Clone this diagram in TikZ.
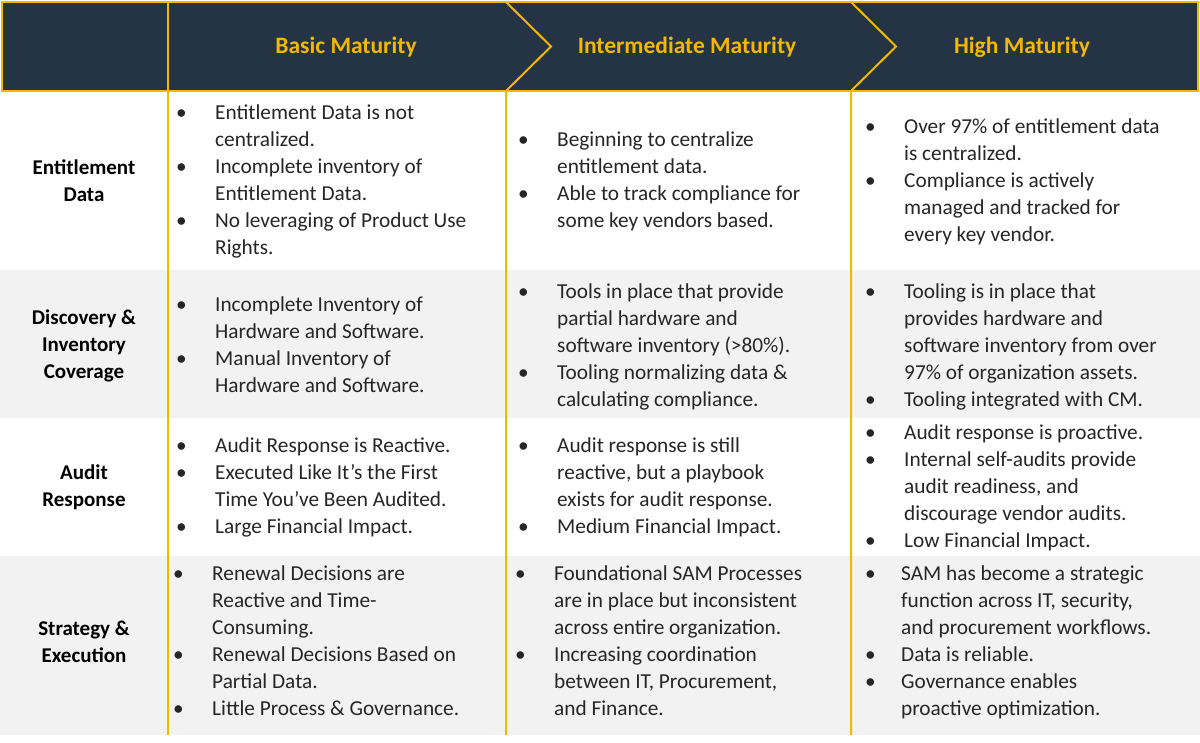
\documentclass[tikz,border=0pt]{standalone}
\usepackage{fontspec}
\setmainfont{Carlito}
\usepackage{array}
\definecolor{hdr}{HTML}{243444}
\definecolor{gold}{HTML}{F5B800}
\definecolor{rowg}{HTML}{F2F2F2}
\tikzset{
  cell/.style={anchor=west,inner sep=0pt,font=\fontsize{21.3}{27}\selectfont,text=black!85},
  rowlab/.style={align=center,inner sep=0pt,font=\fontsize{21}{27}\selectfont\bfseries},
  head/.style={inner sep=0pt,font=\fontsize{23.5}{26}\selectfont\bfseries,text=gold},
  gline/.style={draw=gold,line width=2pt}
}
\newcommand{\bcell}[2]{\begin{tabular}{@{}p{#1}@{}l@{}}#2\end{tabular}}
\begin{document}
\begin{tikzpicture}[x=1pt,y=-1pt]
\useasboundingbox (0,0) rectangle (1200,742);
\fill[white] (0,0) rectangle (1200,742);
% rows
\fill[rowg] (0,270) rectangle (1200,418);
\fill[rowg] (0,556) rectangle (1200,735);
% header
\fill[hdr] (2,2) rectangle (1198,91);
\draw[gline] (2,2) rectangle (1198,91);
\draw[gline] (168,2) -- (168,735);
\draw[gline] (506,2) -- (551,46.5) -- (506,91) -- (506,735);
\draw[gline] (851,2) -- (896,46.5) -- (851,91) -- (851,735);
\node[head] (h1) at (346,47) {Basic Maturity};
\node[head] (h2) at (687,47) {Intermediate Maturity};
\node[head] (h3) at (1022,47) {High Maturity};
% row labels
\node[rowlab] (r1) at (84,181) {Entitlement\\Data};
\node[rowlab] (r2) at (84,346) {Discovery \&\\Inventory\\Coverage};
\node[rowlab] (r3) at (84,487) {Audit\\Response};
\node[rowlab] (r4) at (84,642) {Strategy \&\\Execution};
% row 1
\node[cell] (c11) at (176,182) {\bcell{39pt}{•&Entitlement Data is not\\&centralized.\\•&Incomplete inventory of\\&Entitlement Data.\\•&No leveraging of Product Use\\&Rights.}};
\node[cell] (c12) at (518,182) {\bcell{39pt}{•&Beginning to centralize\\&entitlement data.\\•&Able to track compliance for\\&some key vendors based.}};
\node[cell] (c13) at (865,182) {\bcell{39pt}{•&Over 97\% of entitlement data\\&is centralized.\\•&Compliance is actively\\&managed and tracked for\\&every key vendor.}};
% row 2
\node[cell] (c21) at (176,347) {\bcell{39pt}{•&Incomplete Inventory of\\&Hardware and Software.\\•&Manual Inventory of\\&Hardware and Software.}};
\node[cell] (c22) at (518,347) {\bcell{39pt}{•&Tools in place that provide\\&partial hardware and\\&software inventory (>80\%).\\•&Tooling normalizing data \&\\&calculating compliance.}};
\node[cell] (c23) at (865,347) {\bcell{39pt}{•&Tooling is in place that\\&provides hardware and\\&software inventory from over\\&97\% of organization assets.\\•&Tooling integrated with CM.}};
% row 3
\node[cell] (c31) at (176,488) {\bcell{39pt}{•&Audit Response is Reactive.\\•&Executed Like It’s the First\\&Time You’ve Been Audited.\\•&Large Financial Impact.}};
\node[cell] (c32) at (518,488) {\bcell{39pt}{•&Audit response is still\\&reactive, but a playbook\\&exists for audit response.\\•&Medium Financial Impact.}};
\node[cell] (c33) at (865,488) {\bcell{39pt}{•&Audit response is proactive.\\•&Internal self-audits provide\\&audit readiness, and\\&discourage vendor audits.\\•&Low Financial Impact.}};
% row 4
\node[cell] (c41) at (173,643) {\bcell{39pt}{•&Renewal Decisions are\\&Reactive and Time-\\&Consuming.\\•&Renewal Decisions Based on\\&Partial Data.\\•&Little Process \& Governance.}};
\node[cell] (c42) at (515,643) {\bcell{39pt}{•&Foundational SAM Processes\\&are in place but inconsistent\\&across entire organization.\\•&Increasing coordination\\&between IT, Procurement,\\&and Finance.}};
\node[cell] (c43) at (865,643) {\bcell{36pt}{•&SAM has become a strategic\\&function across IT, security,\\&and procurement workflows.\\•&Data is reliable.\\•&Governance enables\\&proactive optimization.}};
\end{tikzpicture}
\end{document}
